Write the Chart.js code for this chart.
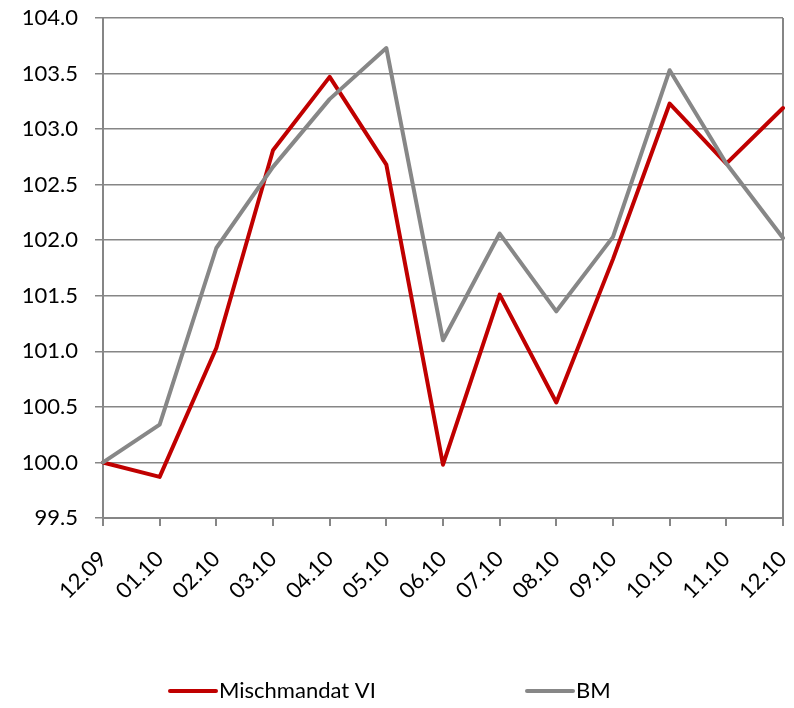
<!DOCTYPE html>
<html>
<head>
<meta charset="utf-8">
<script src="https://cdn.jsdelivr.net/npm/chart.js@4/dist/chart.umd.min.js"></script>
<style>
  html, body { margin:0; padding:0; background:#fff; }
  #wrap { width:794px; height:708px; position:relative; }
</style>
</head>
<body>
<div id="wrap"><canvas id="perfChart"></canvas></div>
<script>
/* Mischmandat VI vs BM, indexiert auf 100 */

const labels = ['12.09', '01.10', '02.10', '03.10', '04.10', '05.10', '06.10', '07.10', '08.10', '09.10', '10.10', '11.10', '12.10'];
const mischmandat = [100.0, 99.87, 101.03, 102.81, 103.47, 102.68, 99.98, 101.51, 100.54, 101.83, 103.23, 102.69, 103.19];
const bm = [100.0, 100.34, 101.93, 102.66, 103.27, 103.73, 101.10, 102.06, 101.36, 102.03, 103.53, 102.69, 102.02];

const AXIS = '#868686';
const FONT = 'Lato, "Open Sans", sans-serif';

// legend drawn like the Excel one: short line + text, two items spread out
const excelLegend = {
  id: 'excelLegend',
  afterDraw(chart) {
    const ctx = chart.ctx;
    const items = [
      { ds: chart.data.datasets[0], x: 168 },
      { ds: chart.data.datasets[1], x: 525 }
    ];
    const y = 691;
    ctx.save();
    ctx.font = '22px ' + FONT;
    ctx.textBaseline = 'middle';
    ctx.fillStyle = '#000';
    items.forEach(it => {
      ctx.strokeStyle = it.ds.borderColor;
      ctx.lineWidth = 4;
      ctx.lineCap = 'round';
      ctx.beginPath();
      ctx.moveTo(it.x + 2, y);
      ctx.lineTo(it.x + 48, y);
      ctx.stroke();
      ctx.fillText(it.ds.label, it.x + 51, y);
    });
    ctx.restore();
  }
};

new Chart(document.getElementById('perfChart'), {
  type: 'line',
  data: {
    labels: labels,
    datasets: [
      {
        label: 'Mischmandat VI',
        data: mischmandat,
        borderColor: '#C00000',
        borderWidth: 4,
        pointRadius: 0,
        tension: 0,
        borderJoinStyle: 'round',
        borderCapStyle: 'round',
        order: 1
      },
      {
        label: 'BM',
        data: bm,
        borderColor: '#878787',
        borderWidth: 4,
        pointRadius: 0,
        tension: 0,
        borderJoinStyle: 'round',
        borderCapStyle: 'round',
        order: 0
      }
    ]
  },
  options: {
    responsive: true,
    maintainAspectRatio: false,
    animation: false,
    layout: { padding: { top: 18, right: 11, bottom: 50, left: 0 } },
    plugins: { legend: { display: false }, tooltip: { enabled: false } },
    scales: {
      y: {
        min: 99.5,
        max: 104,
        afterFit: s => { s.width = 103; s.paddingTop = 0; s.paddingBottom = 0; },
        ticks: { stepSize: 0.5, color: '#000', padding: 17, font: { family: FONT, size: 22 }, callback: v => v.toFixed(1) },
        grid: { color: AXIS, lineWidth: 1.5, tickLength: 8, tickColor: AXIS },
        border: { display: true, color: AXIS, width: 2 }
      },
      x: {
        afterFit: s => { s.height = 140; s.paddingLeft = 0; s.paddingRight = 0; },
        ticks: { color: '#000', autoSkip: false, minRotation: 45, maxRotation: 45, padding: 20, font: { family: FONT, size: 22 } },
        grid: {
          drawOnChartArea: true,
          color: c => (c.index === labels.length - 1 ? AXIS : 'rgba(0,0,0,0)'),
          lineWidth: 2,
          tickLength: 8,
          tickColor: AXIS
        },
        border: { display: true, color: AXIS, width: 2 }
      }
    }
  },
  plugins: [excelLegend]
});
</script>
</body>
</html>
